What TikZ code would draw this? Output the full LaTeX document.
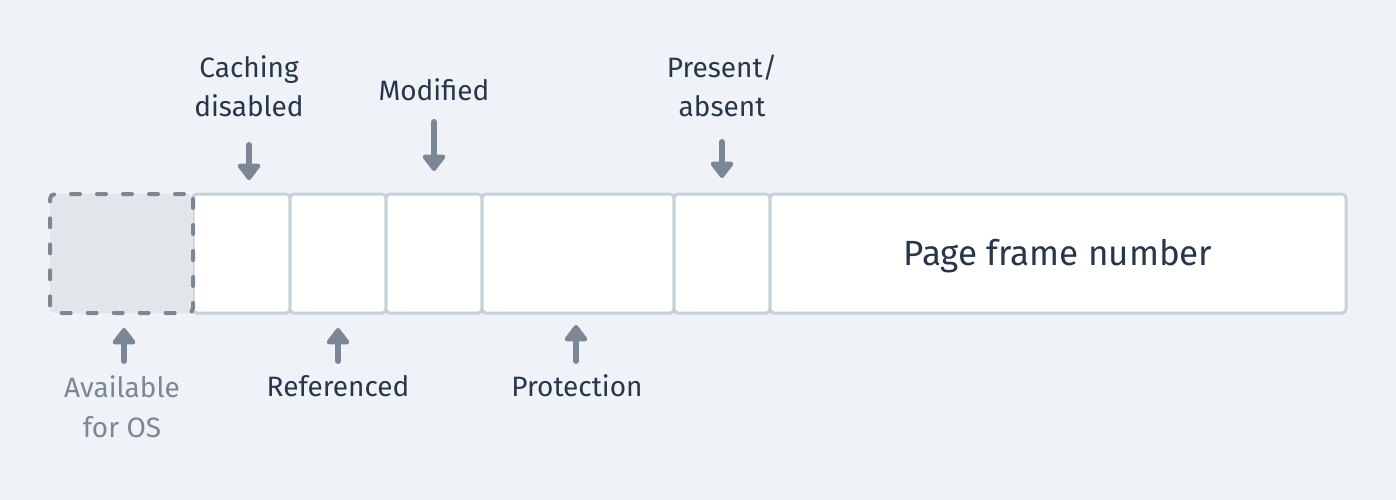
\documentclass[tikz,border=0pt]{standalone}
\usepackage{fontspec}
\setmainfont{Fira Sans}
\usetikzlibrary{arrows.meta}
\definecolor{bgc}{HTML}{EFF3F7}
\definecolor{cellline}{HTML}{C5D1DB}
\definecolor{dashc}{HTML}{7B8794}
\definecolor{dashfill}{HTML}{E2E6EA}
\definecolor{txt}{HTML}{27364A}
\tikzset{
  cell/.style={draw=cellline, line width=3pt, fill=white, rounded corners=4pt, inner sep=0pt, minimum height=119pt},
  oscell/.style={draw=dashc, line width=4pt, fill=dashfill, rounded corners=5pt, inner sep=0pt, minimum height=119pt, line cap=round, dash pattern=on 9pt off 17pt, dash phase=-4pt},
  lbl/.style={font=\fontsize{28}{32}\selectfont, text=txt, inner sep=0pt, anchor=base},
  oslbl/.style={lbl, text=dashc},
  pointer/.style={draw=dashc, line width=6pt, line cap=round, -{Triangle[width=26pt,length=18pt,round]}}
}
\begin{document}
\begin{tikzpicture}[x=1pt,y=-1pt]
\useasboundingbox[fill=bgc] (0,0) rectangle (1396,500);
% cells
\node[cell, minimum width=97pt] (cd) at (241.5,253.5) {};
\node[cell, minimum width=96pt] (rf) at (338,253.5) {};
\node[cell, minimum width=96pt] (md) at (434,253.5) {};
\node[cell, minimum width=192pt] (pr) at (578,253.5) {};
\node[cell, minimum width=96pt] (pa) at (722,253.5) {};
\node[cell, minimum width=576pt] (pfn) at (1058,253.5) {};
\node[oscell, minimum width=143pt] (os) at (121.5,253.5) {};
\node[lbl, font=\fontsize{35}{40}\selectfont] (pfnt) at (1058,265) {Page frame number};
% top labels
\node[lbl] (cdt1) at (249,78) {Caching};
\node[lbl] (cdt2) at (249,117) {disabled};
\node[lbl] (mdt) at (434,101) {Modified};
\node[lbl] (pat1) at (722,78) {Present/};
\node[lbl] (pat2) at (722,117) {absent};
% bottom labels
\node[oslbl] (ost1) at (122,397) {Available};
\node[oslbl] (ost2) at (122,437) {for OS};
\node[lbl] (rft) at (338,396) {Referenced};
\node[lbl] (prt) at (577,396) {Protection};
% arrow endpoints
\coordinate (cdA) at (249,145);
\coordinate (cdB) at (249,180);
\coordinate (mdA) at (434,122);
\coordinate (mdB) at (434,171);
\coordinate (paA) at (722,142);
\coordinate (paB) at (722,178);
\coordinate (osA) at (124,361);
\coordinate (osB) at (124,328);
\coordinate (rfA) at (338,361);
\coordinate (rfB) at (338,328);
\coordinate (prA) at (576,361);
\coordinate (prB) at (576,325);
\draw[pointer] (cdA) -- (cdB);
\draw[pointer] (mdA) -- (mdB);
\draw[pointer] (paA) -- (paB);
\draw[pointer] (osA) -- (osB);
\draw[pointer] (rfA) -- (rfB);
\draw[pointer] (prA) -- (prB);
\end{tikzpicture}
\end{document}
